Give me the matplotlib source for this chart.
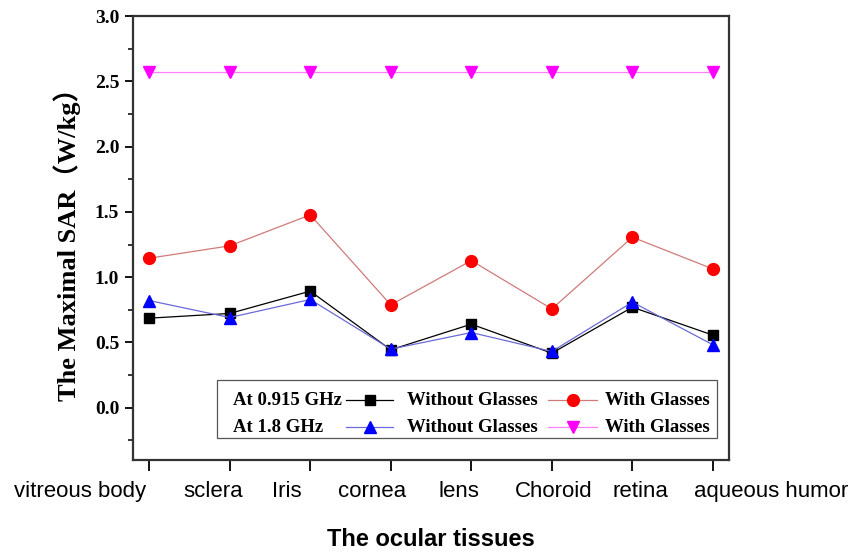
import matplotlib
matplotlib.use('Agg')
import matplotlib.pyplot as plt
from matplotlib.lines import Line2D
from matplotlib.patches import Rectangle
from matplotlib.ticker import MultipleLocator

tissues = ['vitreous body', 'sclera', 'Iris', 'cornea', 'lens', 'Choroid', 'retina', 'aqueous humor']
sar_0915_without = [0.686, 0.722, 0.893, 0.444, 0.640, 0.418, 0.770, 0.556]
sar_0915_with = [1.145, 1.240, 1.477, 0.788, 1.127, 0.757, 1.306, 1.063]
sar_18_without = [0.821, 0.691, 0.829, 0.449, 0.576, 0.431, 0.809, 0.482]
sar_18_with = [2.57, 2.57, 2.57, 2.57, 2.57, 2.57, 2.57, 2.57]

serif = ['Liberation Serif', 'Noto Sans CJK SC', 'DejaVu Serif']
sans = ['Liberation Sans', 'DejaVu Sans']

fig = plt.figure(figsize=(8.49, 5.52), dpi=100)
ax = fig.add_axes([0.1567, 0.1667, 0.702, 0.8043])

x = list(range(len(tissues)))
series = [
    (sar_0915_without, 'black', 's', 'black', 7),
    (sar_0915_with, '#d07a7a', 'o', 'red', 8.5),
    (sar_18_without, '#6a6ad8', '^', 'blue', 8.5),
    (sar_18_with, '#ff80ff', 'v', 'magenta', 8.5),
]
for vals, lc, mk, mc, ms in series:
    ax.plot(x, vals, color=lc, lw=0.9, marker=mk, ms=ms, mfc=mc, mec=mc, zorder=3)

ax.set_xlim(-0.2, 7.2)
ax.set_ylim(-0.4, 3.0)
ax.set_xticks(x)
ax.set_xticklabels([])
# category names, nudged sideways so the long ones don't collide
shifts = [-69, -17, -23, -19, -12, 2, 8, 58]
for xi, name, dx in zip(x, tissues, shifts):
    ax.annotate(name, xy=(xi, 0), xycoords=('data', 'axes fraction'),
                xytext=(dx, -32), textcoords='offset pixels',
                ha='center', va='center', family=sans, fontsize=16, annotation_clip=False)

ax.yaxis.set_major_locator(MultipleLocator(0.5))
ax.yaxis.set_minor_locator(MultipleLocator(0.25))
ax.set_yticks([0.0, 0.5, 1.0, 1.5, 2.0, 2.5, 3.0])
ax.set_yticklabels(['0.0', '0.5', '1.0', '1.5', '2.0', '2.5', '3.0'],
                   family=serif, fontweight='bold', fontsize=14)
ax.tick_params(axis='y', which='major', direction='out', length=6, width=1.3, pad=4)
ax.tick_params(axis='y', which='minor', direction='out', length=3.5, width=1.1)
ax.tick_params(axis='x', direction='out', length=8, width=1.3)
for s in ax.spines.values():
    s.set_linewidth(1.6)
    s.set_color('#333333')

ax.set_ylabel('The Maximal SAR（W/kg）', family=serif, fontweight='bold', fontsize=19, labelpad=10)
ax.set_xlabel('The ocular tissues', family=sans, fontweight='bold', fontsize=17, va='center')
ax.xaxis.set_label_coords(0.5, -0.18)

# legend box drawn by hand: frequency labels + series handles
tr = ax.transAxes
ax.add_patch(Rectangle((0.141, 0.0495), 0.839, 0.1305, transform=tr, fill=True,
                       facecolor='white', edgecolor='#555555', lw=0.9, zorder=4))
rows = [(0.135, 'At 0.915 GHz', series[0], series[1]),
        (0.074, 'At 1.8 GHz', series[2], series[3])]
for yy, freq, s_without, s_with in rows:
    ax.text(0.168, yy, freq, transform=tr, family=serif, fontweight='bold',
            fontsize=13.5, va='center', zorder=5)
    for (vals, lc, mk, mc, ms), x0, x1, tx, lab in [
            (s_without, 0.358, 0.436, 0.460, 'Without Glasses'),
            (s_with, 0.696, 0.779, 0.792, 'With Glasses')]:
        ax.add_line(Line2D([x0, x1], [yy, yy], transform=tr, color=lc, lw=0.9, zorder=5))
        ax.add_line(Line2D([(x0 + x1) / 2], [yy], transform=tr, marker=mk, ms=ms,
                           mfc=mc, mec=mc, ls='none', zorder=6))
        ax.text(tx, yy, lab, transform=tr, family=serif, fontweight='bold',
                fontsize=13.5, va='center', zorder=5)

fig.savefig('out.png', dpi=100)
